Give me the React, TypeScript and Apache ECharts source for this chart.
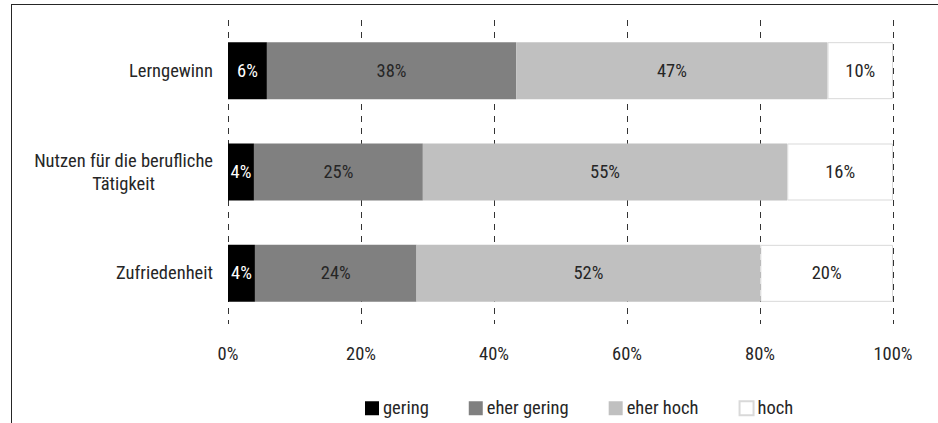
import React, { useEffect, useRef } from "react";
import * as echarts from "echarts";

const categories = ["Lerngewinn", "Nutzen für die berufliche\nTätigkeit", "Zufriedenheit"];
const seriesNames = ["gering", "eher gering", "eher hoch", "hoch"];
const gering = [5.85, 3.9, 4.05];
const eherGering = [37.5, 25.4, 24.3];
const eherHoch = [46.8, 54.8, 51.7];
const hoch = [9.85, 15.9, 19.95];
const xTicks = [0, 20, 40, 60, 80, 100];

const CANDIDATES = [
  "Liberation Sans Narrow",
  "Noto Sans Condensed",
  "Roboto Condensed",
  "Open Sans Condensed",
  "DejaVu Sans Condensed",
];

function pickFont(): { family: string; size: number } {
  const canvas = document.createElement("canvas");
  const ctx = canvas.getContext("2d");
  const sample = "Lerngewinn";
  if (!ctx) return { family: "'DejaVu Sans Condensed', sans-serif", size: 16 };
  ctx.font = "20px monospace";
  const base = ctx.measureText(sample).width;
  for (const c of CANDIDATES) {
    ctx.font = `20px "${c}", monospace`;
    const w = ctx.measureText(sample).width;
    if (Math.abs(w - base) > 0.5) {
      const size = Math.min(20, Math.round(((20 * 84) / w) * 2) / 2);
      return { family: `'${c}', sans-serif`, size };
    }
  }
  return { family: "sans-serif", size: 16 };
}

export default function App() {
  const ref = useRef<HTMLDivElement>(null);
  useEffect(() => {
    if (!ref.current) return;
    const { family: FONT, size: FS } = pickFont();
    const chart = echarts.init(ref.current, null, { renderer: "svg" });
    const colors = ["#000000", "#808080", "#c0c0c0", "#ffffff"];
    const labelColors = ["#ffffff", "#262626", "#262626", "#262626"];
    const values = [gering, eherGering, eherHoch, hoch];
    chart.setOption({
      animation: false,
      backgroundColor: "#ffffff",
      textStyle: { fontFamily: FONT },
      grid: {
        left: 228,
        right: 45,
        top: 20,
        height: 304,
        containLabel: false,
        outerBoundsMode: "none",
      },
      legend: {
        left: 365,
        top: 408 - Math.max(14, FS) / 2,
        padding: 0,
        itemWidth: 14,
        itemHeight: 14,
        itemGap: 40,
        icon: "rect",
        textStyle: { fontFamily: FONT, fontSize: FS, color: "#262626", padding: [0, 0, 0, -1] },
        data: seriesNames,
      },
      xAxis: {
        type: "value",
        min: xTicks[0],
        max: xTicks[xTicks.length - 1],
        interval: 20,
        axisLine: { show: false },
        axisTick: { show: false },
        axisLabel: {
          formatter: "{value}%",
          margin: 30 - FS / 2,
          fontSize: FS,
          fontFamily: FONT,
          color: "#262626",
        },
        splitLine: { show: true, lineStyle: { color: "#333333", type: [6, 6], width: 1 } },
      },
      yAxis: {
        type: "category",
        inverse: true,
        data: categories,
        axisLine: { show: false },
        axisTick: { show: false },
        axisLabel: {
          margin: 15,
          fontSize: FS,
          fontFamily: FONT,
          color: "#262626",
          lineHeight: 23,
          formatter: (v: string) => v.split("\n").map((l) => `{c|${l}}`).join("\n"),
          rich: { c: { align: "center", fontSize: FS, fontFamily: FONT, color: "#262626", lineHeight: 23 } },
        },
      },
      series: seriesNames.map((name, i) => ({
        name,
        type: "bar",
        stack: "total",
        barWidth: 57,
        data: values[i],
        itemStyle: {
          color: colors[i],
          borderColor: i === 3 ? "#d9d9d9" : colors[i],
          borderWidth: i === 3 ? 1 : 0,
        },
        label: {
          show: true,
          position: "inside",
          fontSize: FS,
          fontFamily: FONT,
          color: labelColors[i],
          formatter: (p: any) => `${Math.round(p.value)}%`,
        },
      })),
    });
    return () => chart.dispose();
  }, []);
  return (
    <div style={{ position: "fixed", left: 0, top: 0, width: 938, height: 423, background: "#fff" }}>
      <div ref={ref} style={{ position: "absolute", left: 0, top: 0, width: 938, height: 423 }} />
      <div
        style={{
          position: "absolute",
          left: 11,
          top: 4,
          width: 927,
          height: 419,
          borderTop: "1px solid #262626",
          borderLeft: "1px solid #262626",
          boxSizing: "border-box",
          pointerEvents: "none",
          zIndex: 10,
        }}
      />
    </div>
  );
}
